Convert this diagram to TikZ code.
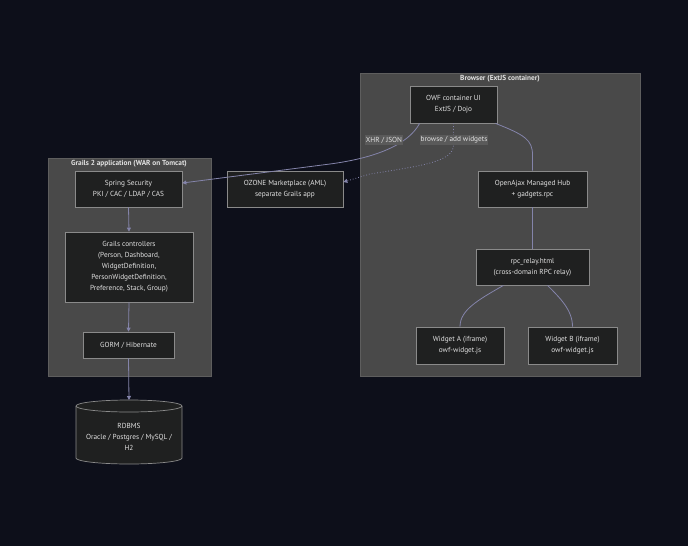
\documentclass[tikz,border=0pt]{standalone}
\usepackage{fontspec}
\setmainfont{PT Sans}
\usetikzlibrary{arrows.meta}
\definecolor{bgc}{HTML}{0D0F1A}
\definecolor{clfill}{HTML}{494949}
\definecolor{cldraw}{HTML}{5E5E5E}
\definecolor{ndfill}{HTML}{1F2020}
\definecolor{nddraw}{HTML}{8A8A8A}
\definecolor{txt}{HTML}{E2E2E2}
\definecolor{edgec}{HTML}{8484AA}
\definecolor{lblbg}{HTML}{5A5A5A}
\tikzset{
  cluster/.style={fill=clfill, draw=cldraw, line width=0.8pt},
  box/.style={fill=ndfill, draw=nddraw, line width=0.7pt, text=txt, font=\fontsize{7.3}{11}\selectfont, align=center, inner sep=0pt},
  ctitle/.style={text=txt, font=\fontsize{7.3}{9}\selectfont\bfseries, inner sep=0pt},
  edge/.style={draw=edgec, line width=0.8pt},
  arr/.style={-{Triangle[length=4pt,width=4pt]}},
  lbl/.style={fill=lblbg, text=txt, font=\fontsize{7.3}{9}\selectfont, inner xsep=1pt, inner ysep=2pt},
}
\begin{document}
\begin{tikzpicture}[x=1pt,y=-1pt]
\fill[bgc] (0,0) rectangle (688,546);
\useasboundingbox (0,0) rectangle (688,546);

% clusters
\draw[cluster] (360,73) rectangle (640,376);
\node[ctitle] (tbrowser) at (500,79) {Browser (ExtJS container)};
\draw[cluster] (48,158) rectangle (211,376);
\node[ctitle] (tgrails) at (129,164) {Grails 2 application (WAR on Tomcat)};

% nodes
\node[box, minimum width=87pt, minimum height=37pt] (owf) at (453.5,104.5) {OWF container UI\\ExtJS / Dojo};
\node[box, minimum width=109pt, minimum height=36pt] (hub) at (532.5,189) {OpenAjax Managed Hub\\+ gadgets.rpc};
\node[box, minimum width=113pt, minimum height=36pt] (rpc) at (532.5,267) {rpc\_relay.html\\(cross-domain RPC relay)};
\node[box, minimum width=88pt, minimum height=37pt] (wa) at (460,345.5) {Widget A (iframe)\\owf-widget.js};
\node[box, minimum width=89pt, minimum height=37pt] (wb) at (572.5,345.5) {Widget B (iframe)\\owf-widget.js};
\node[box, minimum width=107pt, minimum height=36pt] (spring) at (128.5,189) {Spring Security\\PKI / CAC / LDAP / CAS};
\node[box, minimum width=116pt, minimum height=36pt] (ozone) at (285,189) {OZONE Marketplace (AML)\\separate Grails app};
\node[box, minimum width=128pt, minimum height=70pt] (ctrl) at (129,267) {Grails controllers\\(Person, Dashboard,\\WidgetDefinition,\\PersonWidgetDefinition,\\Preference, Stack, Group)};
\node[box, minimum width=91pt, minimum height=26pt] (gorm) at (128.5,345) {GORM / Hibernate};

% cylinder
\draw[fill=ndfill, draw=nddraw, line width=0.7pt]
  (76,406) -- (76,458) arc[start angle=180, end angle=0, x radius=53, y radius=6]
  -- (182,406) arc[start angle=0, end angle=-180, x radius=53, y radius=6] -- cycle;
\draw[draw=nddraw, line width=0.7pt] (76,406) arc[start angle=180, end angle=0, x radius=53, y radius=6];
\coordinate (dbtop) at (129,400);
\node[box, fill=none, draw=none] (db) at (129,437) {RDBMS\\Oracle / Postgres / MySQL /\\H2};

% edges
\draw[edge, arr] ([xshift=10pt]owf.south west) .. controls (408,145) and (375,158) .. (330,164) -- ([yshift=6pt]spring.east);
\draw[edge, arr, dotted] (owf.south) -- (453.5,145) .. controls (453.5,162) and (420,166) .. (370,174) -- ([yshift=7pt]ozone.east);
\draw[edge] ([xshift=-2pt]owf.south east) .. controls (525,135) and (532.5,140) .. (532.5,155) -- (hub.north);
\draw[edge] (hub.south) -- (rpc.north);
\draw[edge] ([xshift=-29pt]rpc.south) .. controls (478,300) and (460,310) .. (wa.north);
\draw[edge] ([xshift=15pt]rpc.south) .. controls (560,298) and (572.5,310) .. (wb.north);
\draw[edge, arr] (spring.south) -- (ctrl.north);
\draw[edge, arr] (ctrl.south) -- (gorm.north);
\draw[edge, arr] (gorm.south) -- (dbtop);

% edge labels
\node[lbl] (l1) at (384,140) {XHR / JSON};
\node[lbl] (l2) at (454,140) {browse / add widgets};
\end{tikzpicture}
\end{document}
